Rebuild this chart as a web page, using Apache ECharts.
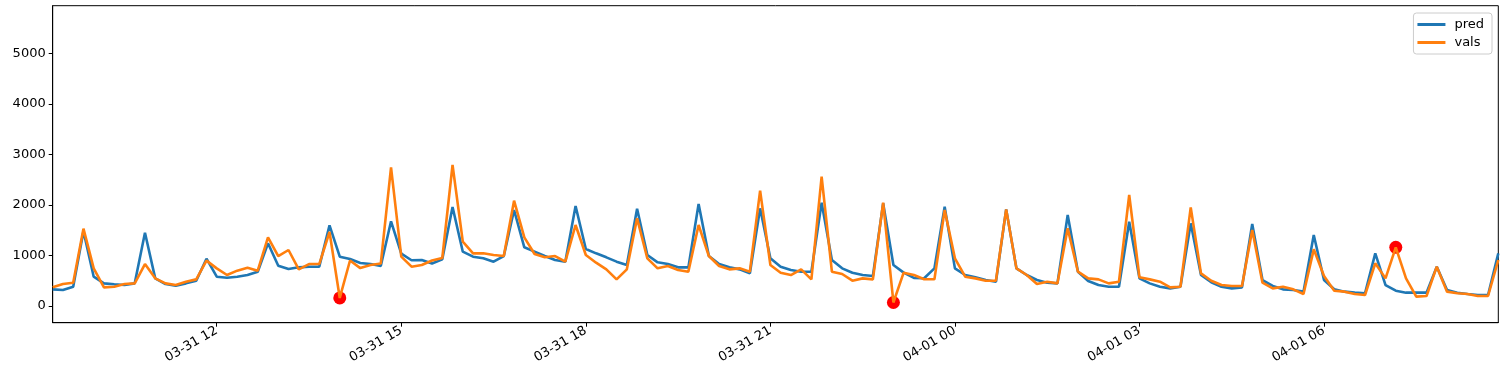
<!DOCTYPE html>
<html>
<head>
<meta charset="utf-8">
<script src="https://cdn.jsdelivr.net/npm/echarts@6/dist/echarts.min.js"></script>
<style>
  html, body { margin: 0; padding: 0; background: #fff; }
  #chart { width: 1504px; height: 376px; }
</style>
</head>
<body>
<div id="chart"></div>
<script>
// 10-minute samples, 03-31 09:20 -> 04-01 08:50
const startDay = '03-31';
const startMinute = 9 * 60 + 20;
const stepMinutes = 10;

const pred = [
  330, 316, 382, 1480, 580, 448, 429, 415, 448, 1450,
  547, 435, 402, 448, 501, 936, 580, 560, 580, 613,
  679, 1240, 798, 732, 765, 778, 778, 1596, 976, 930,
  850, 830, 791, 1675, 1035, 905, 910, 840, 923, 1960,
  1075, 976, 943, 877, 989, 1899, 1161, 1075, 989, 910,
  877, 1978, 1128, 1042, 963, 877, 811, 1925, 1009, 864,
  830, 765, 765, 2018, 989, 830, 765, 725, 646, 1932,
  943, 778, 712, 679, 679, 2044, 910, 745, 659, 613,
  593, 2031, 811, 660, 555, 550, 745, 1965, 745, 613,
  567, 514, 481, 1912, 745, 613, 514, 462, 448, 1800,
  679, 495, 415, 382, 382, 1668, 547, 448, 382, 349,
  382, 1635, 613, 470, 382, 349, 369, 1622, 514, 396,
  330, 316, 284, 1405, 514, 330, 284, 264, 251, 1042,
  415, 303, 264, 264, 264, 778, 316, 264, 237, 218,
  218, 1042
];

const vals = [
  370, 435, 461, 1530, 745, 369, 382, 435, 448, 830,
  547, 448, 415, 481, 527, 897, 745, 613, 699, 758,
  699, 1358, 989, 1108, 725, 830, 830, 1464, 160, 900,
  750, 810, 840, 2743, 976, 778, 811, 900, 950, 2789,
  1273, 1042, 1042, 1009, 989, 2084, 1358, 1029, 963, 989,
  877, 1602, 1009, 857, 725, 527, 725, 1734, 943, 745,
  791, 712, 679, 1602, 989, 791, 725, 745, 679, 2282,
  811, 659, 613, 725, 527, 2558, 679, 633, 501, 547,
  527, 2044, 70, 659, 613, 528, 528, 1899, 943, 580,
  547, 501, 501, 1912, 745, 613, 435, 481, 448, 1536,
  679, 547, 527, 448, 481, 2196, 567, 527, 481, 369,
  382, 1952, 646, 500, 415, 396, 396, 1503, 462, 349,
  382, 330, 237, 1121, 593, 303, 284, 237, 218, 844,
  547, 1160, 547, 185, 198, 778, 284, 251, 237, 198,
  198, 910
];

// positions (sample index) flagged as anomalies
const anomalyIdx = [28, 82, 131];

const yTicks = [0, 1000, 2000, 3000, 4000, 5000];
const xTickLabels = ['03-31 12', '03-31 15', '03-31 18', '03-31 21', '04-01 00', '04-01 03', '04-01 06'];

function pad(n) { return (n < 10 ? '0' : '') + n; }
const categories = [];
for (let i = 0; i < pred.length; i++) {
  let m = startMinute + i * stepMinutes;
  let day = m >= 1440 ? '04-01' : startDay;
  m = m % 1440;
  categories.push(day + ' ' + pad(Math.floor(m / 60)) + ':' + pad(m % 60));
}
// tick only on the whole hours listed in xTickLabels
const showTick = (idx, val) => val.slice(8) === ':00' && xTickLabels.indexOf(val.slice(0, 8)) >= 0;
const anomalies = anomalyIdx.map(i => [i, vals[i]]);

const chart = echarts.init(document.getElementById('chart'));
const font = 'DejaVu Sans';
chart.setOption({
  animation: false,
  backgroundColor: '#fff',
  textStyle: { fontFamily: font },
  grid: {
    left: 52.7, right: 5.7, top: 5.7, bottom: 53.3,
    show: true, borderColor: '#000', borderWidth: 1,
    outerBoundsMode: 'none'
  },
  legend: {
    data: ['pred', 'vals'],
    icon: 'rect',
    orient: 'vertical',
    right: 12, top: 13,
    itemWidth: 28, itemHeight: 3, itemGap: 5,
    padding: [5, 8, 5, 4],
    backgroundColor: 'rgba(255,255,255,0.8)',
    borderColor: '#ccc', borderWidth: 1, borderRadius: 3,
    textStyle: { fontFamily: font, fontSize: 13, color: '#000', padding: [0, 0, 0, 4] }
  },
  xAxis: {
    type: 'category',
    data: categories,
    boundaryGap: false,
    axisLine: { show: true, onZero: false, lineStyle: { color: '#000', width: 1 } },
    axisTick: { show: true, interval: showTick, length: 4, lineStyle: { color: '#000' } },
    axisLabel: {
      interval: showTick,
      rotate: 30,
      margin: 7,
      fontFamily: font, fontSize: 13, color: '#000',
      formatter: v => v.slice(0, 8)
    },
    splitLine: { show: false }
  },
  yAxis: {
    type: 'value',
    min: -330, max: 5940,
    axisLine: { show: true, lineStyle: { color: '#000', width: 1 } },
    axisTick: { show: true, customValues: yTicks, length: 4, lineStyle: { color: '#000' } },
    axisLabel: {
      customValues: yTicks, margin: 7, fontFamily: font, fontSize: 13, color: '#000',
      formatter: v => String(v)
    },
    splitLine: { show: false }
  },
  series: [
    {
      name: 'anomaly', type: 'scatter', data: anomalies,
      symbolSize: 13, itemStyle: { color: '#ff0000', opacity: 1 }, z: 1
    },
    {
      name: 'pred', type: 'line', data: pred, symbol: 'none',
      lineStyle: { color: '#1f77b4', width: 2.6 }, itemStyle: { color: '#1f77b4' }, z: 2
    },
    {
      name: 'vals', type: 'line', data: vals, symbol: 'none',
      lineStyle: { color: '#ff7f0e', width: 2.6 }, itemStyle: { color: '#ff7f0e' }, z: 3
    }
  ]
});
</script>
</body>
</html>
